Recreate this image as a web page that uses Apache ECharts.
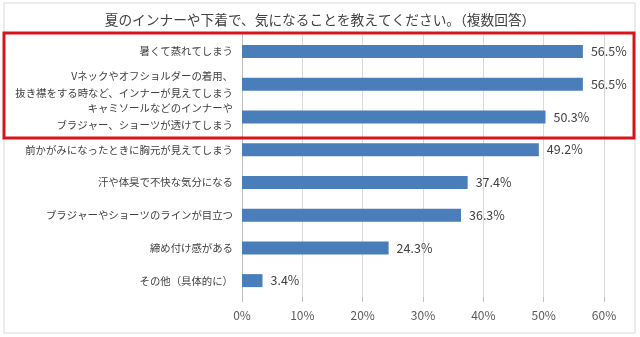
<!DOCTYPE html>
<html><head><meta charset="utf-8">
<script src="https://cdn.jsdelivr.net/npm/echarts@6/dist/echarts.min.js"></script>
<style>html,body{margin:0;padding:0;background:#fff}#c{width:640px;height:337px}</style>
</head><body><div id="c"></div>
<script>
const title = '夏のインナーや下着で、気になることを教えてください。（複数回答）';
const categories = [
  '暑くて蒸れてしまう',
  'Vネックやオフショルダーの着用、\n抜き襟をする時など、インナーが見えてしまう',
  'キャミソールなどのインナーや\nブラジャー、ショーツが透けてしまう',
  '前かがみになったときに胸元が見えてしまう',
  '汗や体臭で不快な気分になる',
  'ブラジャーやショーツのラインが目立つ',
  '締め付け感がある',
  'その他（具体的に）'
];
const values = [56.5, 56.5, 50.3, 49.2, 37.4, 36.3, 24.3, 3.4];
const xTicks = [0, 10, 20, 30, 40, 50, 60];

const font = '"Noto Sans CJK JP", "Noto Sans", sans-serif';
const chart = echarts.init(document.getElementById('c'), null, {renderer: 'canvas'});
chart.setOption({
  animation: false,
  backgroundColor: '#fff',
  textStyle: {fontFamily: font},
  title: {
    text: title, left: 'center', top: 8,
    textStyle: {fontSize: 13.7, fontWeight: 'normal', color: '#404040', fontFamily: font}
  },
  grid: {left: 242, right: 36, top: 35, bottom: 40, containLabel: false},
  xAxis: {
    type: 'value', min: xTicks[0], max: xTicks[xTicks.length - 1], interval: 10,
    axisLine: {show: false},
    axisTick: {show: true, length: 5, lineStyle: {color: '#bfbfbf'}},
    axisLabel: {formatter: '{value}%', color: '#595959', fontSize: 12, margin: 12, fontFamily: font},
    splitLine: {show: true, lineStyle: {color: '#d9d9d9', width: 1}}
  },
  yAxis: {
    type: 'category', data: categories, inverse: true,
    axisLine: {show: true, lineStyle: {color: '#bfbfbf'}},
    axisTick: {show: false},
    axisLabel: {color: '#404040', fontSize: 10.4, margin: 9, lineHeight: 17, fontFamily: font}
  },
  series: [{
    type: 'bar', data: values, barWidth: 13,
    itemStyle: {color: '#4a7ebb'},
    label: {show: true, position: 'right', distance: 8, formatter: p => p.value.toFixed(1) + '%',
      color: '#404040', fontSize: 12.5, fontFamily: font}
  }],
  graphic: [
    {type: 'rect', shape: {x: 4, y: 3, width: 631, height: 330}, style: {fill: 'none', stroke: '#d9d9d9', lineWidth: 1}, silent: true},
    {type: 'rect', shape: {x: 4, y: 33, width: 630, height: 105}, style: {fill: 'none', stroke: '#d7141c', lineWidth: 3}, silent: true, z: 100}
  ]
});
</script></body></html>
